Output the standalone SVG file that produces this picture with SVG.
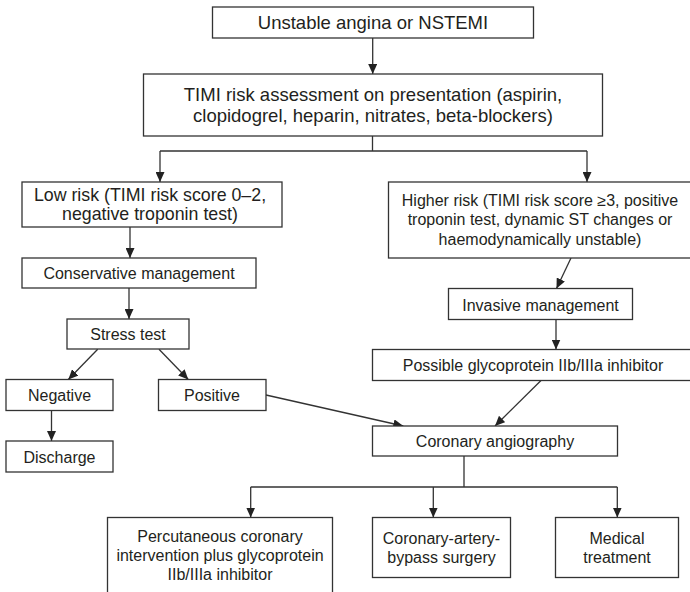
<svg xmlns="http://www.w3.org/2000/svg" width="690" height="592" viewBox="0 0 690 592">
<style>
.box{fill:#fff;stroke:#333;stroke-width:1.3}
.t{font-family:"Liberation Sans",Arial,sans-serif;font-size:16px;fill:#231f20;text-anchor:middle}
.big{font-size:18.5px}
.mid{font-size:17.8px}
.c{fill:none;stroke:#333;stroke-width:1.3}
</style>
<defs>
<marker id="ah" markerUnits="userSpaceOnUse" markerWidth="10" markerHeight="9" viewBox="0 0 10 9" refX="10" refY="4.5" orient="auto">
<path d="M0,0 L10,4.5 L0,9 z" fill="#222"/>
</marker>
</defs>
<rect width="690" height="592" fill="#fff"/>
<g id="connectors">
<path class="c" d="M372.7,38 V74" marker-end="url(#ah)"/>
<path class="c" d="M372.5,136 V151 M160,151 H587"/>
<path class="c" d="M160,151 V182" marker-end="url(#ah)"/>
<path class="c" d="M587,151 V182" marker-end="url(#ah)"/>
<path class="c" d="M130,227 V258" marker-end="url(#ah)"/>
<path class="c" d="M129,288 V319" marker-end="url(#ah)"/>
<path class="c" d="M97.7,349.3 L68.3,379.5" marker-end="url(#ah)"/>
<path class="c" d="M159,349.3 L188.3,379.5" marker-end="url(#ah)"/>
<path class="c" d="M51.5,410.5 V441" marker-end="url(#ah)"/>
<path class="c" d="M266,395 L403.3,426" marker-end="url(#ah)"/>
<path class="c" d="M571,258 L556.5,288.5" marker-end="url(#ah)"/>
<path class="c" d="M556,319.5 V349.5" marker-end="url(#ah)"/>
<path class="c" d="M541,380.5 L495,426" marker-end="url(#ah)"/>
<path class="c" d="M464,456 V487 M250.7,487 H617.3"/>
<path class="c" d="M250.7,487 V517.5" marker-end="url(#ah)"/>
<path class="c" d="M433.3,487 V517.5" marker-end="url(#ah)"/>
<path class="c" d="M617.3,487 V517.5" marker-end="url(#ah)"/>
</g>
<g id="n1"><rect class="box" x="212.5" y="7" width="321" height="31"/><text class="t big" x="373" y="29">Unstable angina or NSTEMI</text></g>
<g id="n2"><rect class="box" x="143.5" y="74" width="459" height="62"/><text class="t big" x="373" y="101">TIMI risk assessment on presentation (aspirin,</text><text class="t big" x="373" y="121.5">clopidogrel, heparin, nitrates, beta-blockers)</text></g>
<g id="n3"><rect class="box" x="22" y="182" width="260" height="45"/><text class="t mid" x="150" y="201">Low risk (TIMI risk score 0–2,</text><text class="t mid" x="150" y="220">negative troponin test)</text></g>
<g id="n4"><rect class="box" x="22" y="258" width="234" height="30"/><text class="t" x="139" y="279">Conservative management</text></g>
<g id="n5"><rect class="box" x="67" y="319" width="122" height="30"/><text class="t" x="128" y="340">Stress test</text></g>
<g id="n6"><rect class="box" x="6" y="379.5" width="107" height="31"/><text class="t" x="59.5" y="401">Negative</text></g>
<g id="n7"><rect class="box" x="158.5" y="379.5" width="107.5" height="31"/><text class="t" x="212" y="401">Positive</text></g>
<g id="n8"><rect class="box" x="6" y="441" width="107" height="31"/><text class="t" x="59.5" y="462.5">Discharge</text></g>
<g id="n9"><rect class="box" x="388.5" y="182" width="303" height="76"/><text class="t" x="540" y="205.5">Higher risk (TIMI risk score ≥3, positive</text><text class="t" x="540" y="225">troponin test, dynamic ST changes or</text><text class="t" x="540" y="244.5">haemodynamically unstable)</text></g>
<g id="n10"><rect class="box" x="448.5" y="288.5" width="184" height="31"/><text class="t" x="540.5" y="310.5">Invasive management</text></g>
<g id="n11"><rect class="box" x="372.5" y="349.5" width="319" height="31"/><text class="t" x="533" y="371">Possible glycoprotein IIb/IIIa inhibitor</text></g>
<g id="n12"><rect class="box" x="372.5" y="426" width="245" height="30"/><text class="t" x="495" y="447">Coronary angiography</text></g>
<g id="n13"><rect class="box" x="107.5" y="517.5" width="225" height="80"/><text class="t" x="220" y="542">Percutaneous coronary</text><text class="t" x="220" y="561">intervention plus glycoprotein</text><text class="t" x="220" y="580">IIb/IIIa inhibitor</text></g>
<g id="n14"><rect class="box" x="372.5" y="517.5" width="138" height="60"/><text class="t" x="441.5" y="543.5">Coronary-artery-</text><text class="t" x="441.5" y="562.5">bypass surgery</text></g>
<g id="n15"><rect class="box" x="555.5" y="517.5" width="123" height="60"/><text class="t" x="617" y="543.5">Medical</text><text class="t" x="617" y="562.5">treatment</text></g>
</svg>
